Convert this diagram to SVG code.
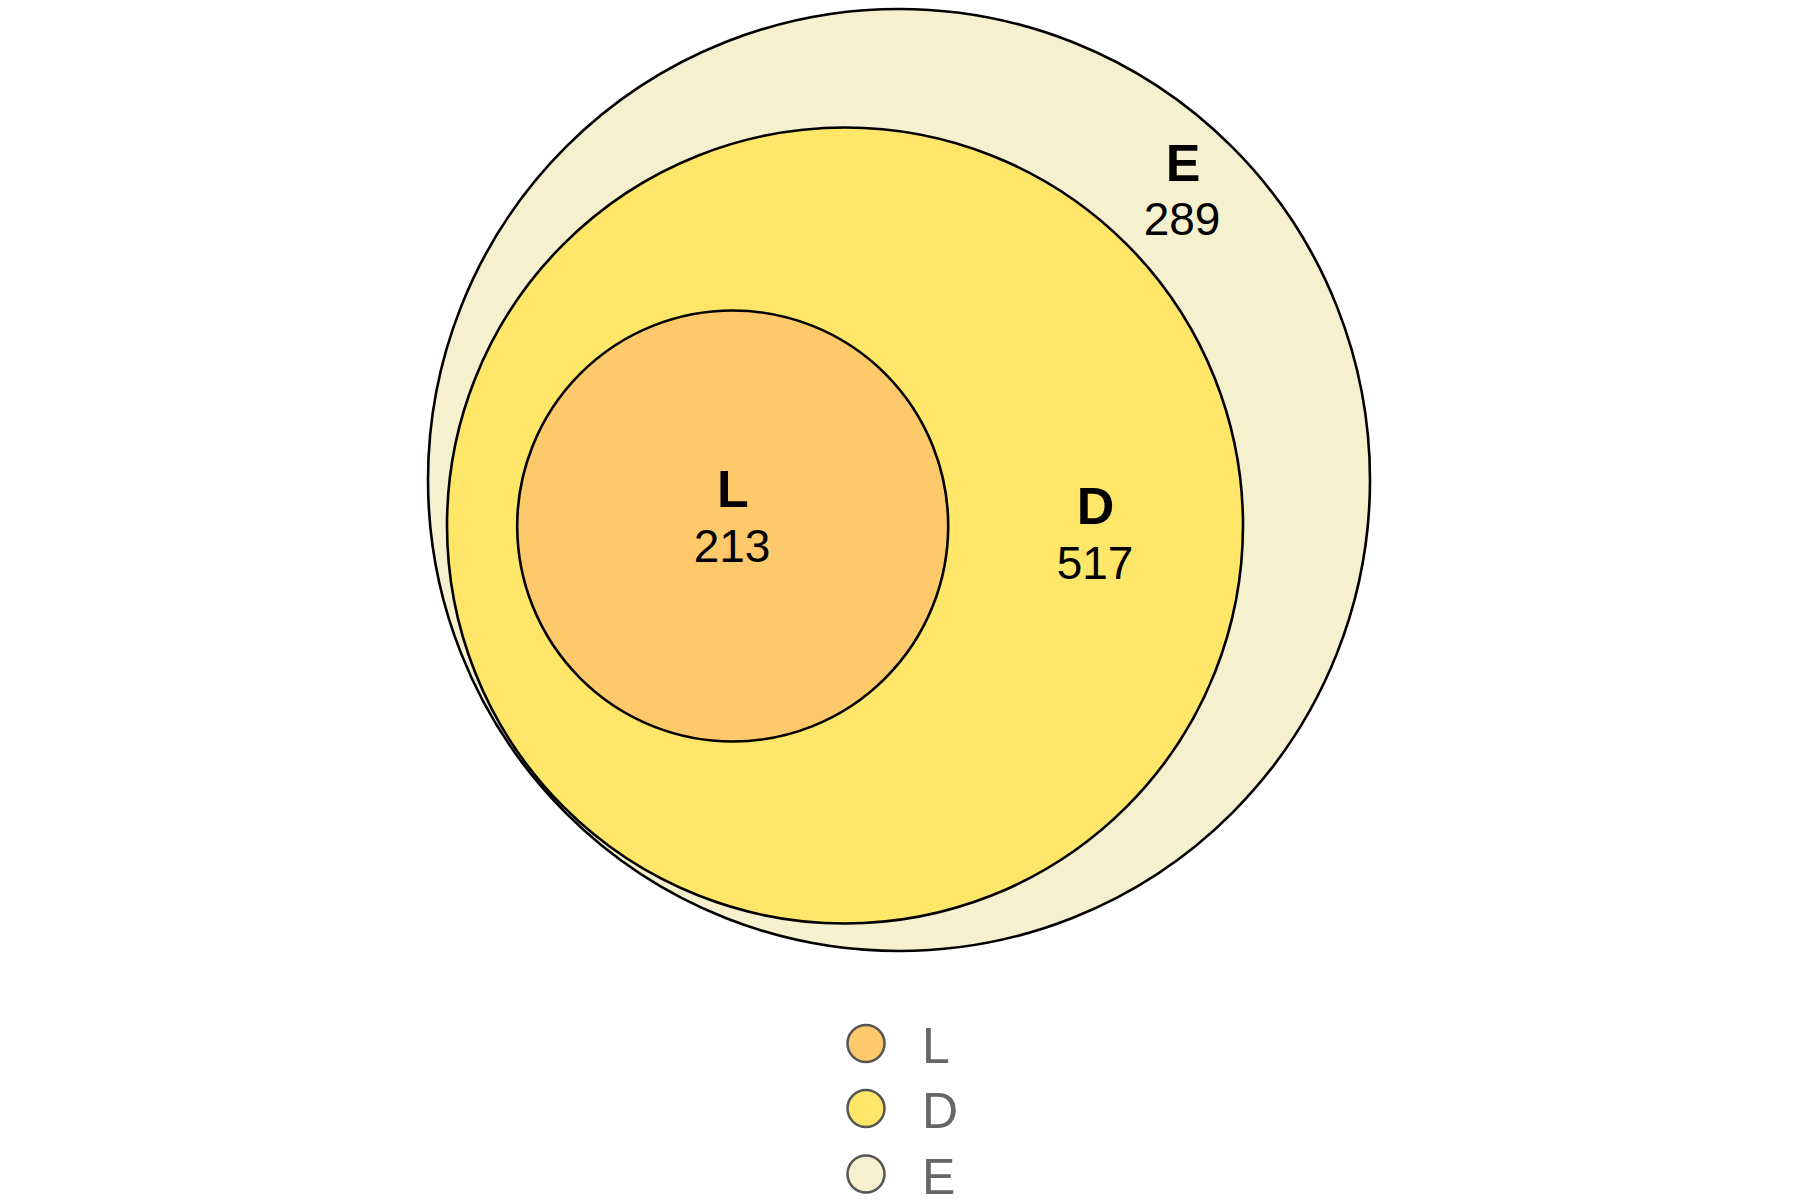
<svg xmlns="http://www.w3.org/2000/svg" width="1800" height="1200" viewBox="0 0 1800 1200">
<style>
.set{stroke:#000;stroke-width:2.6}
.lab{font-family:"Liberation Sans",Arial,sans-serif;font-weight:bold;font-size:52px;fill:#000;text-anchor:middle}
.num{font-family:"Liberation Sans",Arial,sans-serif;font-size:46px;fill:#000;text-anchor:middle}
.leg{stroke:#555;stroke-width:2.5}
.legt{font-family:"Liberation Sans",Arial,sans-serif;font-size:50px;fill:#666}
</style>
<rect width="1800" height="1200" fill="#fff"/>
<g id="E"><circle class="set" cx="899" cy="480" r="471" fill="#F5F0CD"/></g>
<g id="D"><circle class="set" cx="845" cy="525.5" r="398" fill="#FEE668"/></g>
<g id="L"><circle class="set" cx="732.7" cy="526" r="215.5" fill="#FEC96A"/></g>
<g id="labels">
<text class="lab" x="1183" y="181">E</text>
<text class="num" x="1182" y="235">289</text>
<text class="lab" x="733" y="507">L</text>
<text class="num" x="732" y="561.5">213</text>
<text class="lab" x="1095.5" y="524">D</text>
<text class="num" x="1095" y="579">517</text>
</g>
<g id="connectors"></g>
<g id="legend">
<circle class="leg" cx="866" cy="1043.5" r="18.5" fill="#FEC96A"/>
<text class="legt" x="922" y="1063">L</text>
<circle class="leg" cx="866" cy="1108.5" r="18.5" fill="#FEE668"/>
<text class="legt" x="922" y="1128">D</text>
<circle class="leg" cx="866" cy="1174" r="18.5" fill="#F5F0CD"/>
<text class="legt" x="922" y="1193.5">E</text>
</g>
</svg>
